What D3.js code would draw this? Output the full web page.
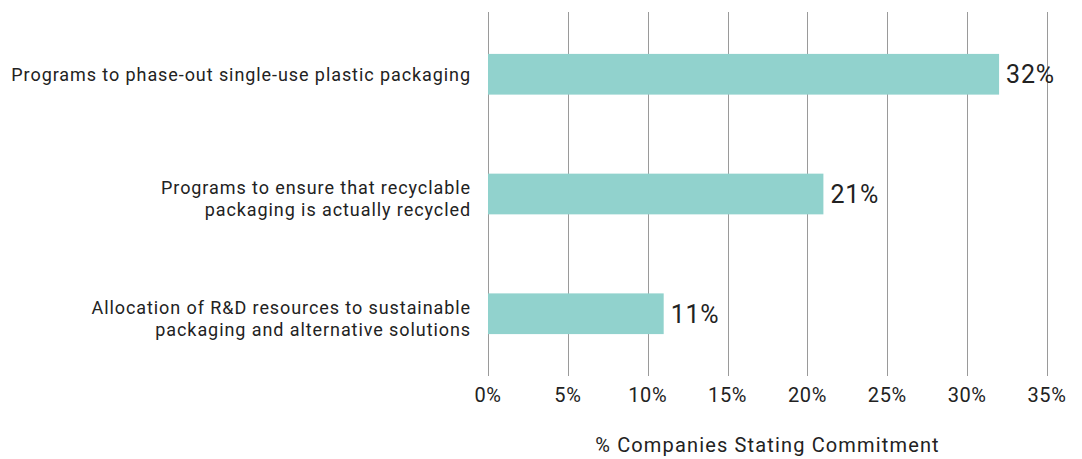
<!DOCTYPE html>
<html>
<head>
<meta charset="utf-8">
<script src="https://cdn.jsdelivr.net/npm/d3@7"></script>
<style>
  html, body { margin: 0; padding: 0; background: #fff; }
  svg text { font-family: Roboto, "Noto Sans", sans-serif; fill: #222; }
</style>
</head>
<body>
<svg id="chart" width="1082" height="459"></svg>
<script>
// Share of companies stating each packaging commitment
const categories = [
  ["Programs to phase-out single-use plastic packaging"],
  ["Programs to ensure that recyclable", "packaging is actually recycled"],
  ["Allocation of R&D resources to sustainable", "packaging and alternative solutions"]
];
const values = [32, 21, 11];
const tickValues = [0, 5, 10, 15, 20, 25, 30, 35];
const axisTitle = "% Companies Stating Commitment";

const svg = d3.select("#chart");
const plotTop = 12, plotBottom = 376;

const x = d3.scaleLinear().domain([0, 35]).range([488, 1047]);
const y = d3.scaleBand()
  .domain(d3.range(values.length))
  .range([plotTop, plotBottom])
  .paddingInner(0.66)
  .paddingOuter(0.35);

// vertical gridlines
svg.append("g")
  .selectAll("line")
  .data(tickValues)
  .join("line")
  .attr("x1", d => Math.round(x(d)) + 0.5)
  .attr("x2", d => Math.round(x(d)) + 0.5)
  .attr("y1", plotTop)
  .attr("y2", plotBottom)
  .attr("stroke", "#9a9a9a")
  .attr("stroke-width", 1);

// tick labels
svg.append("g")
  .selectAll("text")
  .data(tickValues)
  .join("text")
  .attr("x", d => x(d))
  .attr("y", 402)
  .attr("text-anchor", "middle")
  .attr("font-size", 20)
  .attr("letter-spacing", 0.6)
  .text(d => d + "%");

// bars
svg.append("g")
  .selectAll("rect")
  .data(values)
  .join("rect")
  .attr("x", x(0))
  .attr("y", (d, i) => y(i))
  .attr("width", d => x(d) - x(0))
  .attr("height", y.bandwidth())
  .attr("fill", "#91d2cd");

// value labels
svg.append("g")
  .selectAll("text")
  .data(values)
  .join("text")
  .attr("x", d => x(d) + 7)
  .attr("y", (d, i) => y(i) + y.bandwidth() / 2)
  .attr("dy", "0.36em")
  .attr("font-size", 25)
  .attr("letter-spacing", 0.8)
  .text(d => d + "%");

// category labels
const lineH = 22;
const cat = svg.append("g")
  .selectAll("text")
  .data(categories)
  .join("text")
  .attr("x", 471)
  .attr("y", (d, i) => y(i) + y.bandwidth() / 2 - (d.length - 1) * (lineH / 2 - 5))
  .attr("text-anchor", "end")
  .attr("font-size", 18)
  .attr("letter-spacing", 0.92);
cat.selectAll("tspan")
  .data(d => d)
  .join("tspan")
  .attr("x", 471)
  .attr("dy", (d, j) => j === 0 ? "0.35em" : lineH)
  .text(d => d);

// axis title
svg.append("text")
  .attr("x", (x(0) + x(35)) / 2)
  .attr("y", 452)
  .attr("text-anchor", "middle")
  .attr("font-size", 20)
  .attr("letter-spacing", 1.15)
  .text(axisTitle);
</script>
</body>
</html>
